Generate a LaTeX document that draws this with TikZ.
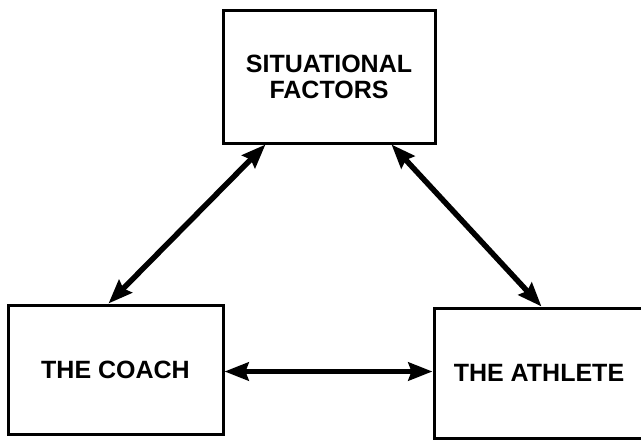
\documentclass[tikz,border=0pt]{standalone}
\usepackage{fontspec}
\setmainfont{Liberation Sans}
\usetikzlibrary{arrows.meta,calc}
\tikzset{
  box/.style={draw=black, line width=3pt, rectangle, inner sep=0pt, align=center,
    font=\fontsize{25}{26}\selectfont\bfseries},
  link/.style={line width=5.5pt, {Stealth[length=24pt,width=18pt,inset=3pt]}-{Stealth[length=24pt,width=18pt,inset=3pt]}}
}
\begin{document}
\begin{tikzpicture}[x=1pt,y=-1pt]
\useasboundingbox[fill=white] (0,0) rectangle (641,442);
\node[box, minimum width=212pt, minimum height=133pt] (sit) at (329,76.5) {SITUATIONAL\\FACTORS};
\node[box, minimum width=215pt, minimum height=129pt] (coach) at (115.5,369.5) {THE COACH};
\node[box, minimum width=210pt, minimum height=130pt] (ath) at (539,373) {THE ATHLETE};
\draw[link] ($(sit.south west)+(44,0)$) -- ($(coach.north west)+(102,0)$);
\draw[link] ($(sit.south east)+(-45,0)$) -- ($(ath.north west)+(109,0)$);
\coordinate (hl) at ($(coach.east)+(0,2)$);
\draw[link] (hl) -- (hl -| ath.west);
\end{tikzpicture}
\end{document}
